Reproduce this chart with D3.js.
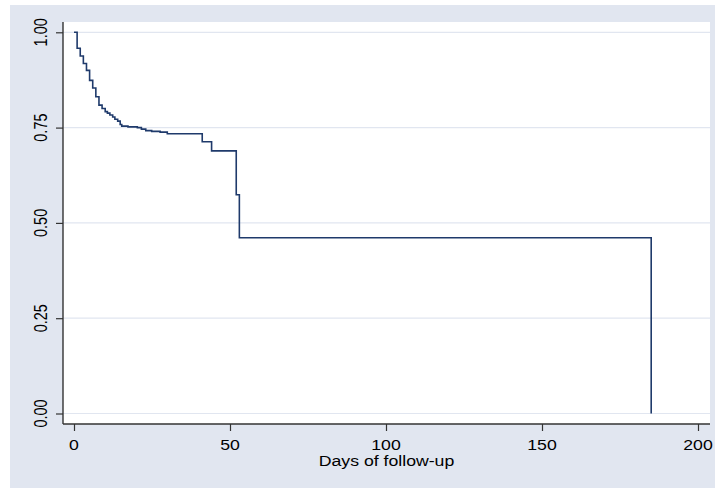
<!DOCTYPE html>
<html>
<head>
<meta charset="utf-8">
<script src="https://cdn.jsdelivr.net/npm/d3@7"></script>
<style>
  html, body { margin: 0; padding: 0; background: #ffffff; }
  svg { display: block; }
  text { font-family: "Liberation Sans", Arial, sans-serif; fill: #000; }
</style>
</head>
<body>
<svg id="chart" width="715" height="489"></svg>
<script>
// Kaplan-Meier survival estimate (days, survival)
const days = [0, 1, 2, 3, 4, 5, 6, 7, 8, 9, 10, 10.7, 11.5, 12.4, 13.1, 14, 14.8, 15.3, 17.3, 20.3, 21.6, 23, 24.9, 27.6, 29.9, 41.1, 44.1, 52, 53, 185];
const survival = [1, 0.958, 0.938, 0.918, 0.900, 0.874, 0.854, 0.831, 0.809, 0.800, 0.792, 0.788, 0.783, 0.778, 0.772, 0.767, 0.758, 0.754, 0.752, 0.750, 0.746, 0.742, 0.740, 0.738, 0.734, 0.713, 0.689, 0.574, 0.461, 0];
const xTicks = [0, 50, 100, 150, 200];
const yTicks = [0, 0.25, 0.5, 0.75, 1];
const yTickLabels = ["0.00", "0.25", "0.50", "0.75", "1.00"];
const xTitle = "Days of follow-up";

const svg = d3.select("#chart");
const W = 715, H = 489;
const plot = { left: 63, right: 710, top: 22, bottom: 424 };
const stretch = 1.22;

// graph region background
svg.append("rect").attr("x", 10).attr("y", 5).attr("width", W - 10).attr("height", 483).attr("fill", "#e1e6f0");
// plot region
svg.append("rect").attr("x", plot.left).attr("y", plot.top)
  .attr("width", plot.right - plot.left).attr("height", plot.bottom - plot.top).attr("fill", "#ffffff");

const x = d3.scaleLinear().domain([0, 200]).range([74, 698]);
const y = d3.scaleLinear().domain([0, 1]).range([413.5, 32.3]);

// gridlines
svg.append("g").selectAll("line").data(yTicks).join("line")
  .attr("x1", plot.left).attr("x2", plot.right)
  .attr("y1", d => y(d)).attr("y2", d => y(d))
  .attr("stroke", "#e1e6f0").attr("stroke-width", 1.2);

// survival curve
const data = days.map((d, i) => [d, survival[i]]);
const line = d3.line().x(d => x(d[0])).y(d => y(d[1])).curve(d3.curveStepAfter);
svg.append("path").datum(data).attr("d", line)
  .attr("fill", "none").attr("stroke", "#1f3a6b").attr("stroke-width", 1.6);

// axes
const axisColor = "#333";
const yAxis = d3.axisLeft(y).tickValues(yTicks).tickSize(7).tickFormat("");
const gy = svg.append("g").attr("transform", `translate(${plot.left},0)`).call(yAxis);
gy.select(".domain").remove();
gy.selectAll(".tick line").attr("stroke", axisColor).attr("stroke-width", 1.2);
svg.append("line").attr("x1", plot.left).attr("x2", plot.left).attr("y1", plot.top).attr("y2", plot.bottom)
  .attr("stroke", axisColor).attr("stroke-width", 1.4);

const xAxis = d3.axisBottom(x).tickValues(xTicks).tickSize(7).tickFormat("");
const gx = svg.append("g").attr("transform", `translate(0,${plot.bottom})`).call(xAxis);
gx.select(".domain").remove();
gx.selectAll(".tick line").attr("stroke", axisColor).attr("stroke-width", 1.2);
svg.append("line").attr("x1", plot.left).attr("x2", plot.right).attr("y1", plot.bottom).attr("y2", plot.bottom)
  .attr("stroke", axisColor).attr("stroke-width", 1.4);

// y tick labels (rotated)
svg.append("g").selectAll("text").data(yTicks).join("text")
  .attr("transform", d => `translate(47,${y(d)}) scale(${stretch},1) rotate(-90)`)
  .attr("text-anchor", "middle").attr("font-size", 14.5)
  .text((d, i) => yTickLabels[i]);

// x tick labels
svg.append("g").selectAll("text").data(xTicks).join("text")
  .attr("transform", d => `translate(${x(d)},450) scale(${stretch},1)`)
  .attr("text-anchor", "middle").attr("font-size", 14.5)
  .text(d => d);

// x title
svg.append("text")
  .attr("transform", `translate(${(plot.left + plot.right) / 2},466) scale(${stretch},1)`)
  .attr("text-anchor", "middle").attr("font-size", 14.5)
  .text(xTitle);
</script>
</body>
</html>
